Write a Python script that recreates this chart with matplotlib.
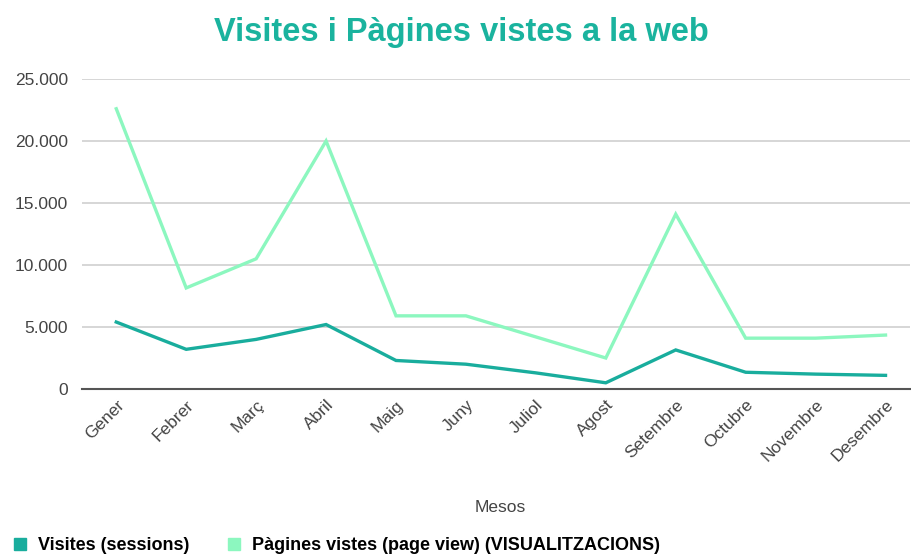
import numpy as np
import matplotlib.pyplot as plt
from matplotlib.lines import Line2D

plt.rcParams['font.family'] = ['Liberation Sans', 'DejaVu Sans']

mesos = ['Gener', 'Febrer', 'Març', 'Abril', 'Maig', 'Juny', 'Juliol',
         'Agost', 'Setembre', 'Octubre', 'Novembre', 'Desembre']
visites = [5400, 3200, 4000, 5200, 2300, 2000, 1300, 500, 3150, 1350, 1200, 1100]
pagines = [22600, 8150, 10500, 20000, 5900, 5900, 4200, 2500, 14100, 4100, 4100, 4350]

c_vis = '#19ad9d'
c_pag = '#8cf7bf'

fig = plt.figure(figsize=(9.12, 5.56), dpi=100)
ax = fig.add_axes([82/912, 1-389/556, 828/912, 310/556])

x = np.arange(len(mesos))
ax.plot(x, visites, color=c_vis, lw=2.4, solid_joinstyle='miter')
ax.plot(x, pagines, color=c_pag, lw=2.4, solid_joinstyle='miter')

ax.set_xlim(-0.49, 11.35)
ax.set_ylim(0, 25000)
ax.set_yticks([0, 5000, 10000, 15000, 20000, 25000])
ax.set_yticklabels(['0', '5.000', '10.000', '15.000', '20.000', '25.000'])
ax.grid(axis='y', color='#d0d0d0', lw=1.2)
ax.set_axisbelow(True)
for s in ['top', 'right', 'left']:
    ax.spines[s].set_visible(False)
ax.spines['bottom'].set_color('#555555')
ax.spines['bottom'].set_linewidth(1.5)
ax.tick_params(axis='both', length=0, labelsize=12.5, colors='#444444')
ax.tick_params(axis='y', pad=10)
ax.set_xticks(x)
ax.set_xticklabels(mesos, rotation=45, ha='right', rotation_mode='anchor')
ax.tick_params(axis='x', pad=6)

fig.text(461/912, 1-33/556, 'Visites i Pàgines vistes a la web', ha='center', va='center',
         fontsize=23.5, fontweight='bold', color='#1ab39e')
fig.text(500/912, 1-508/556, 'Mesos', ha='center', va='center', fontsize=12.5, color='#444444')

handles = [Line2D([], [], marker='s', ls='', color=c_vis, markersize=8),
           Line2D([], [], marker='s', ls='', color=c_pag, markersize=8)]
fig.legend(handles, ['Visites (sessions)', 'Pàgines vistes (page view) (VISUALITZACIONS)'],
           loc='center left', bbox_to_anchor=(-0.006, 1-546/556), ncol=2, frameon=False,
           prop={'weight': 'bold', 'size': 13}, handletextpad=0.5, columnspacing=2.0,
           handlelength=1.0)

fig.savefig('out.png', dpi=100)
